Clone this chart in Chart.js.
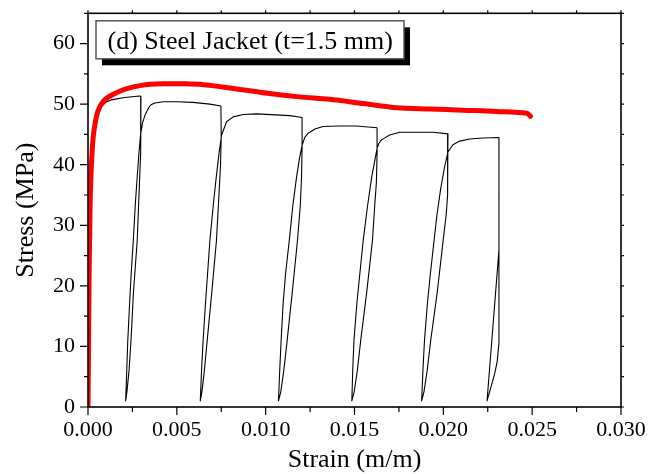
<!DOCTYPE html>
<html>
<head>
<meta charset="utf-8">
<script src="https://cdn.jsdelivr.net/npm/chart.js@4.4.0/dist/chart.umd.min.js"></script>
<style>
  html, body { margin: 0; padding: 0; background: #fff; }
</style>
</head>
<body>
<canvas id="stressChart" width="665" height="474"></canvas>
<script>
// monotonic envelope (red)
const envStrain = [0, 0.00003, 0.00006, 0.0001, 0.00015, 0.00024, 0.00033, 0.00055, 0.0009, 0.0014,
  0.0021, 0.003, 0.0042, 0.0055, 0.0065, 0.0082, 0.0101, 0.0119, 0.0136, 0.0155,
  0.0174, 0.0192, 0.0211, 0.023, 0.0247, 0.0249];
const envStress = [0, 10, 21, 30, 37, 42.5, 45.5, 48.8, 50.6, 51.6,
  52.5, 53.1, 53.35, 53.35, 53.2, 52.6, 51.8, 51.2, 50.8, 50.1,
  49.4, 49.2, 49.0, 48.8, 48.5, 48.0];

// cyclic loading / unloading (black), one continuous path
const cycStrain = [
  // first loading
  0, 0.00003, 0.00007, 0.00012, 0.00018, 0.00028, 0.00047, 0.00075, 0.001, 0.0013, 0.00206, 0.0029, 0.00298,
  // cycle 1
  0.00298, 0.00295, 0.00287, 0.00277, 0.00256, 0.00242, 0.00231, 0.00219, 0.00212,
  0.00218, 0.00224, 0.00234, 0.00243, 0.00255, 0.00266, 0.00277, 0.00287, 0.00296, 0.00307, 0.00321,
  0.00339, 0.00354, 0.00377, 0.00423, 0.00499, 0.00591, 0.00686, 0.00748,
  // cycle 2
  0.0075, 0.00746, 0.00734, 0.00723, 0.00697, 0.00671, 0.00655, 0.00641, 0.00632,
  0.00639, 0.00648, 0.00661, 0.00673, 0.00686, 0.00705, 0.00722, 0.00738, 0.00752, 0.0078, 0.00817,
  0.00873, 0.00949, 0.01136, 0.01205,
  // cycle 3
  0.01205, 0.01202, 0.01195, 0.01179, 0.0115, 0.01121, 0.01102, 0.01085, 0.01072,
  0.01079, 0.01087, 0.01098, 0.01112, 0.01133, 0.01153, 0.01174, 0.0119, 0.01205, 0.0122, 0.01239,
  0.01277, 0.01323, 0.01417, 0.01511, 0.01627,
  // cycle 4
  0.01627, 0.01623, 0.01614, 0.01601, 0.01569, 0.01535, 0.01516, 0.01498, 0.01485,
  0.0149, 0.01497, 0.01513, 0.0153, 0.01549, 0.01574, 0.01597, 0.01627, 0.01637, 0.01652, 0.01698,
  0.01755, 0.01849, 0.01942, 0.02026,
  // cycle 5
  0.02026, 0.02022, 0.02016, 0.01999, 0.01966, 0.01929, 0.01909, 0.01891, 0.01878,
  0.01885, 0.01894, 0.0191, 0.01927, 0.01948, 0.01964, 0.01985, 0.02006, 0.02026, 0.02054, 0.02092,
  0.02148, 0.02223, 0.02313,
  // cycle 6
  0.02313, 0.02303, 0.02289, 0.02265, 0.02246,
  0.02313
];
const cycStress = [
  0, 10, 20, 30, 37, 43, 47.4, 49.6, 50.3, 50.7, 51.1, 51.35, 51.3,
  47.5, 42, 35, 27.5, 19, 11, 6, 2.5, 1.0,
  6, 11, 17, 22, 27.5, 33.3, 38, 42, 45, 46.9, 48.2,
  49.3, 49.9, 50.2, 50.4, 50.4, 50.3, 50.0, 49.7,
  45, 40, 33.3, 27.5, 19, 11, 6, 2.5, 1.0,
  6, 11, 17, 22, 27.5, 33.3, 38, 42, 44.9, 47.1, 47.9,
  48.3, 48.4, 48.1, 47.8,
  43, 38, 33.3, 27.5, 19, 11, 6, 2.5, 1.0,
  6, 11, 17, 22, 27.5, 33.3, 38, 41, 43.2, 44.5, 45.2,
  45.9, 46.3, 46.4, 46.4, 46.1,
  41.6, 37, 33.3, 27.5, 19, 11, 6, 2.5, 1.0,
  6, 11, 17, 22, 27.5, 33.3, 38, 42.7, 43.5, 44.1, 44.9,
  45.35, 45.35, 45.35, 45.1,
  40, 35, 31.7, 27.5, 19, 11, 6, 2.5, 1.0,
  6, 11, 17, 22, 27.5, 31.7, 36, 39.5, 42.1, 43.3, 43.9,
  44.25, 44.4, 44.5,
  10.5, 7.5, 5.5, 3.0, 1.0,
  25.9
];

const xTicks = [0, 0.005, 0.010, 0.015, 0.020, 0.025, 0.030];
const yTicks = [0, 10, 20, 30, 40, 50, 60];
const panelLabel = '(d) Steel Jacket (t=1.5 mm)';

const serif = '"Liberation Serif", "Times New Roman", serif';

const toPoints = (xs, ys) => xs.map((v, i) => ({ x: v, y: ys[i] }));

// box frame with mirrored ticks, plus the panel caption
const frameTicks = {
  id: 'frameTicks',
  afterDraw(chart) {
    const { ctx, chartArea: a, scales: { x, y } } = chart;
    ctx.save();
    ctx.strokeStyle = '#000';
    ctx.lineWidth = 1.2;
    ctx.beginPath();
    for (let i = 0; i <= 12; i++) {
      const px = x.getPixelForValue(i * 0.0025);
      const len = i % 2 === 0 ? 8 : 5;
      ctx.moveTo(px, a.bottom); ctx.lineTo(px, a.bottom + len);
      ctx.moveTo(px, a.top); ctx.lineTo(px, a.top - 3);
    }
    for (let i = 0; i <= 13; i++) {
      const py = y.getPixelForValue(i * 5);
      const len = i % 2 === 0 ? 8 : 4;
      ctx.moveTo(a.left, py); ctx.lineTo(a.left - len, py);
      ctx.moveTo(a.right, py); ctx.lineTo(a.right + 3, py);
    }
    ctx.stroke();
    ctx.lineWidth = 1.6;
    ctx.strokeRect(a.left, a.top, a.right - a.left, a.bottom - a.top);

    // caption box with drop shadow
    const bx = a.left + 8, by = a.top + 7.5, bw = 308, bh = 38;
    ctx.fillStyle = '#000';
    ctx.fillRect(bx + 6, by + 6.5, bw, bh);
    ctx.fillStyle = '#fff';
    ctx.fillRect(bx, by, bw, bh);
    ctx.strokeStyle = '#555';
    ctx.lineWidth = 1.5;
    ctx.strokeRect(bx, by, bw, bh);
    ctx.fillStyle = '#000';
    ctx.font = '26px ' + serif;
    ctx.textBaseline = 'alphabetic';
    ctx.textAlign = 'left';
    ctx.fillText(panelLabel, bx + 11.5, by + 28.5);
    ctx.restore();
  }
};

new Chart(document.getElementById('stressChart'), {
  type: 'scatter',
  data: {
    datasets: [{
      label: 'Monotonic',
      data: toPoints(envStrain, envStress),
      showLine: true,
      borderColor: '#ff0000',
      borderWidth: 5,
      borderCapStyle: 'round',
      borderJoinStyle: 'round',
      pointRadius: 0,
      tension: 0.3
    }, {
      label: 'Cyclic',
      data: toPoints(cycStrain, cycStress),
      showLine: true,
      borderColor: '#000',
      borderWidth: 1.1,
      borderJoinStyle: 'round',
      pointRadius: 0,
      tension: 0
    }]
  },
  options: {
    responsive: false,
    animation: false,
    layout: { padding: { top: 13.3, right: 44, left: 0, bottom: 0 } },
    plugins: { legend: { display: false }, tooltip: { enabled: false } },
    scales: {
      x: {
        type: 'linear',
        min: 0,
        max: 0.03,
        afterBuildTicks: s => { s.ticks = xTicks.map(v => ({ value: v })); },
        afterFit: s => { s.height = 67; },
        grid: { display: false, drawTicks: false },
        border: { display: false },
        ticks: {
          padding: 10,
          color: '#000',
          font: { family: serif, size: 22 },
          callback: v => v.toFixed(3)
        },
        title: {
          display: true,
          text: 'Strain (m/m)',
          color: '#000',
          font: { family: serif, size: 26, lineHeight: 1 },
          padding: { top: 0, bottom: 1 }
        }
      },
      y: {
        type: 'linear',
        min: 0,
        max: 65,
        afterBuildTicks: s => { s.ticks = yTicks.map(v => ({ value: v })); },
        afterFit: s => { s.width = 88; s.paddingTop = 0; s.paddingBottom = 0; },
        grid: { display: false, drawTicks: false },
        border: { display: false },
        ticks: {
          padding: 13,
          color: '#000',
          font: { family: serif, size: 22 }
        },
        title: {
          display: true,
          text: 'Stress (MPa)',
          color: '#000',
          font: { family: serif, size: 26, lineHeight: 1 },
          padding: { top: 13, bottom: 0 }
        }
      }
    }
  },
  plugins: [frameTicks]
});
</script>
</body>
</html>
